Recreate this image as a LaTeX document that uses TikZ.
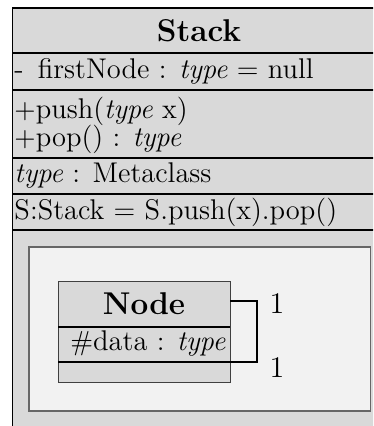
\documentclass[tikz,border=0pt]{standalone}
\begin{document}
\begin{tikzpicture}[x=0.4pt,y=-0.4pt,
  txt/.style={inner sep=0pt,font=\fontsize{11.4}{13}\selectfont},
  ttl/.style={inner sep=0pt,font=\fontsize{12.6}{15}\selectfont\bfseries},
  sep/.style={line width=0.7pt},
  outerbox/.style={fill=black!15,draw=black,line width=0.5pt},
  innerbox/.style={fill=black!5,draw=black!60,line width=0.6pt},
  clsbox/.style={fill=black!15,draw=black!75,line width=0.4pt},
  assoc/.style={draw=black,line width=0.8pt}]
\useasboundingbox (0,0) rectangle (373,426);
\clip (0,0) rectangle (373,426);
% outer class
\path[outerbox] (12.5,8) rectangle (386,445);
\draw[sep,line width=0.6pt] (12.5,53) -- (386,53);
\draw[sep,line width=1.1pt] (12.5,90) -- (386,90);
\draw[sep] (12.5,158) -- (386,158);
\draw[sep] (12.5,194) -- (386,194);
\draw[sep] (12.5,230) -- (386,230);
\node[ttl] (stack) at (199,31) {Stack};
\node[txt,anchor=west] (attr) at (14,71) {- \,firstNode : \textit{type} = null};
\node[txt,anchor=west] (push) at (14,111) {$+$push(\textit{type} x)};
\node[txt,anchor=west] (pop) at (14,139) {$+$pop() : \textit{type}};
\node[txt,anchor=west] (meta) at (14,176) {\textit{type} : Metaclass};
\node[txt,anchor=west] (constr) at (14,212) {S:Stack = S.push(x).pop()};
% inner package area
\path[innerbox] (29,247) rectangle (370.5,411);
% Node class
\path[clsbox] (58,281) rectangle (230,382);
\draw[sep] (58,327) -- (230,327);
\draw[sep] (58,362) -- (230,362);
\node[ttl] (nodet) at (144,304) {Node};
\node[txt] (data) at (148,344) {$\#$data : \textit{type}};
\coordinate (a1) at (230,301);
\coordinate (a2) at (230,362);
\coordinate (c) at (257,301);
\draw[assoc] (a1) -- (c) |- (a2);
\node[txt] (m1) at (277,304) {\large 1};
\node[txt] (m2) at (277,368) {\large 1};
\end{tikzpicture}
\end{document}
